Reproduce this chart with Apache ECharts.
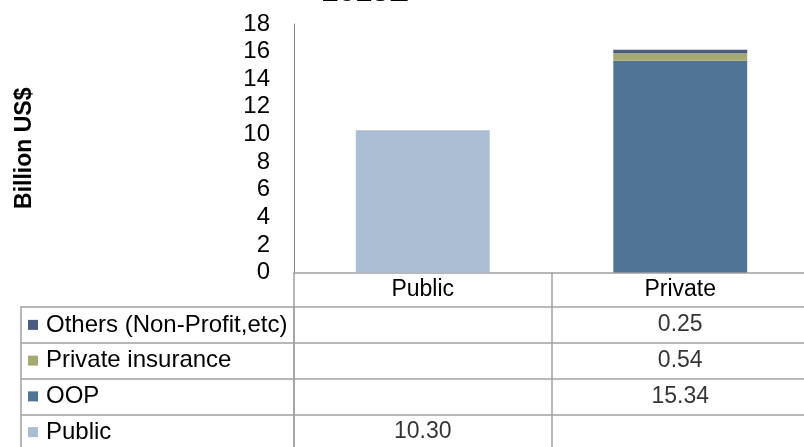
<!DOCTYPE html>
<html>
<head>
<meta charset="utf-8">
<script src="https://cdn.jsdelivr.net/npm/echarts@6/dist/echarts.min.js"></script>
<style>
html,body{margin:0;padding:0;background:#fff;}
#chart{width:804px;height:447px;}
</style>
</head>
<body>
<div id="chart"></div>
<script>
// ---- data ----
var titleText = '2013E';
var categories = ['Public', 'Private'];
var publicVals = [10.30, null];
var oopVals = [null, 15.34];
var insuranceVals = [null, 0.54];
var othersVals = [null, 0.25];
var seriesNames = ['Public', 'OOP', 'Private insurance', 'Others (Non-Profit,etc)'];
var yTicks = { min: 0, max: 18, interval: 2 };
var yAxisName = 'Billion US$';

// ---- styles ----
var colors = ['#abbdd3', '#507594', '#a7a972', '#4b5a80'];
var FONT = 'Liberation Sans, Arial, sans-serif';
var border = '#a0a0a0';

var chart = echarts.init(document.getElementById('chart'));

var valuesBySeries = [publicVals, oopVals, insuranceVals, othersVals];

var barSeries = seriesNames.map(function (n, i) {
  return {
    name: n, type: 'bar', stack: 'total', xAxisIndex: 0, yAxisIndex: 0,
    barWidth: '52%',
    itemStyle: { color: colors[i] },
    data: valuesBySeries[i].map(function (v) { return v == null ? '-' : v; })
  };
});

// table cells
var cellData = [];
valuesBySeries.forEach(function (arr, si) {
  arr.forEach(function (v, ci) {
    if (v != null) cellData.push([categories[ci], seriesNames[si], v]);
  });
});

var rich = { t: { fontFamily: FONT, fontSize: 24, color: '#000', padding: [0, 0, 0, 8] } };
seriesNames.forEach(function (n, i) {
  rich['m' + i] = { backgroundColor: colors[i], width: 10, height: 10 };
});

var option = {
  animation: false,
  backgroundColor: '#fff',
  textStyle: { fontFamily: FONT },
  title: {
    text: titleText, left: 317, top: -27,
    textStyle: { fontFamily: FONT, fontSize: 30, fontWeight: 'bold', color: '#000' }
  },
  grid: [
    { left: 294, top: 24, width: 515, height: 248.5, containLabel: false, outerBoundsMode: 'none' },
    { left: 294, top: 307, width: 515, height: 143, containLabel: false, outerBoundsMode: 'none' }
  ],
  xAxis: [
    {
      type: 'category', gridIndex: 0, data: categories,
      axisLine: { show: true, lineStyle: { color: border, width: 1.5 } },
      axisTick: { show: true, length: 34.5, lineStyle: { color: border, width: 1.5 } },
      axisLabel: { fontFamily: FONT, fontSize: 23, color: '#000', margin: 17.5, verticalAlign: 'middle' }
    },
    {
      type: 'category', gridIndex: 1, data: categories, position: 'top',
      axisLine: { show: false }, axisTick: { show: false }, axisLabel: { show: false },
      splitLine: { show: true, lineStyle: { color: border, width: 1.5 } }
    }
  ],
  yAxis: [
    {
      type: 'value', gridIndex: 0, min: yTicks.min, max: yTicks.max, interval: yTicks.interval,
      name: yAxisName, nameLocation: 'middle', nameRotate: 90, nameGap: 258,
      nameTextStyle: { fontFamily: FONT, fontSize: 23, fontWeight: 'bold', color: '#000' },
      axisLine: { show: true, lineStyle: { color: '#868686', width: 1 } },
      axisTick: { show: false },
      splitLine: { show: false },
      axisLabel: { fontFamily: FONT, fontSize: 24, color: '#000', margin: 24 }
    },
    {
      type: 'category', gridIndex: 1, data: seriesNames,
      axisLine: { show: true, lineStyle: { color: border, width: 1.5 } },
      axisTick: { show: true, length: 273, lineStyle: { color: border, width: 1.5 } },
      splitLine: { show: true, lineStyle: { color: border, width: 1.5 } },
      axisLabel: {
        align: 'left', margin: 266, rich: rich,
        formatter: function (v) {
          var i = seriesNames.indexOf(v);
          return '{m' + i + '|}{t|' + v + '}';
        }
      }
    },
    {
      type: 'category', gridIndex: 1, data: seriesNames, position: 'left', offset: 273,
      axisLine: { show: true, lineStyle: { color: border, width: 1.5 } },
      axisTick: { show: false }, axisLabel: { show: false }, splitLine: { show: false }
    }
  ],
  series: barSeries.concat([{
    type: 'scatter', xAxisIndex: 1, yAxisIndex: 1, symbolSize: 0,
    data: cellData,
    label: {
      show: true, position: 'inside', fontFamily: FONT, fontSize: 23, color: '#000',
      formatter: function (p) { return p.data[2].toFixed(2); }
    }
  }])
};
chart.setOption(option);
</script>
</body>
</html>
